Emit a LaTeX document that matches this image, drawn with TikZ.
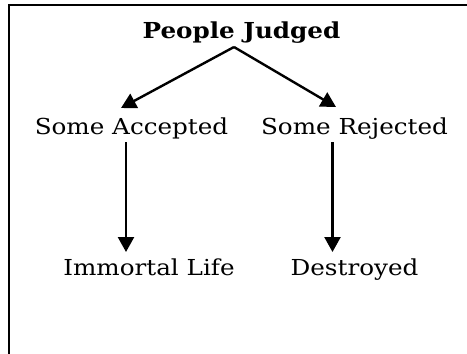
\documentclass[tikz,border=0pt]{standalone}
\usepackage{fontspec}
\setmainfont[FakeStretch=1.12]{DejaVu Serif}
\usetikzlibrary{arrows.meta}
\begin{document}
\begin{tikzpicture}[x=1pt,y=-1pt,
  lbl/.style={anchor=base,inner sep=0pt,font=\fontsize{22}{26}\selectfont},
  conn/.style={line width=2.4pt,-{Triangle[width=16pt,length=15pt]}}]
\useasboundingbox (0,0) rectangle (467,354);
\draw[line width=1.8pt] (9,400) -- (9,5.2) -- (480,5.2);
\node[lbl,font=\fontsize{22}{26}\selectfont\bfseries] (pj) at (241.5,38) {People Judged};
\node[lbl] (sa) at (131.5,134) {Some Accepted};
\node[lbl] (sr) at (354.5,134) {Some Rejected};
\node[lbl] (il) at (149,275) {Immortal Life};
\node[lbl] (de) at (354.5,275) {Destroyed};
\coordinate (apex) at (234,47);
\coordinate (saIn) at (121,108);
\coordinate (srIn) at (336,107);
\coordinate (saOut) at (126,142);
\coordinate (ilIn) at (126,252);
\coordinate (srOut) at (332.5,142);
\coordinate (deIn) at (332.5,252);
\draw[conn] (apex) -- (saIn);
\draw[conn] (apex) -- (srIn);
\draw[conn] (saOut) -- (ilIn);
\draw[conn] (srOut) -- (deIn);
\end{tikzpicture}
\end{document}
